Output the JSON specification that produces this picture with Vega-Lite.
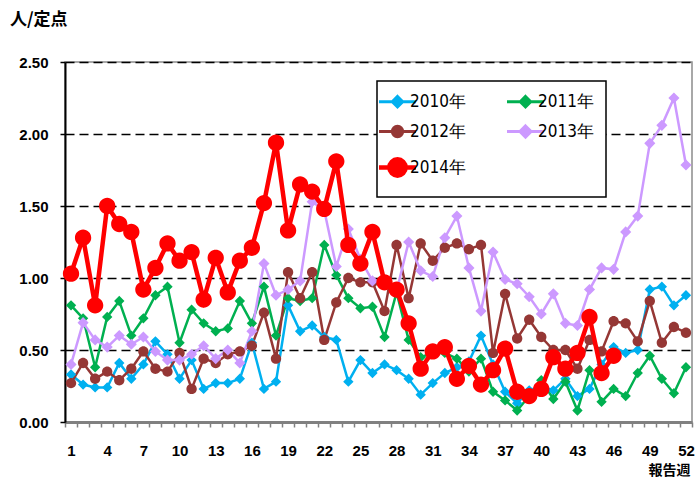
{
"$schema": "https://vega.github.io/schema/vega-lite/v6.json",
"width": 627, "height": 360,
"autosize": "none",
"padding": {"left": 65, "top": 62, "right": 3, "bottom": 55},
"background": "white",
"title": {"text": "人/定点", "anchor": "start", "frame": "group", "dx": -55, "offset": 26, "fontSize": 17, "font": "Noto Sans CJK JP", "fontWeight": "bold", "color": "black"},
"config": {"view": {"stroke": "#8c8c8c", "strokeWidth": 1.5}},
"data": {"values": [
{"w":1,"s":"2010年","v":0.33},{"w":2,"s":"2010年","v":0.26},{"w":3,"s":"2010年","v":0.24},{"w":4,"s":"2010年","v":0.24},{"w":5,"s":"2010年","v":0.41},{"w":6,"s":"2010年","v":0.30},{"w":7,"s":"2010年","v":0.40},{"w":8,"s":"2010年","v":0.56},{"w":9,"s":"2010年","v":0.47},{"w":10,"s":"2010年","v":0.30},{"w":11,"s":"2010年","v":0.43},{"w":12,"s":"2010年","v":0.23},{"w":13,"s":"2010年","v":0.27},{"w":14,"s":"2010年","v":0.27},{"w":15,"s":"2010年","v":0.30},{"w":16,"s":"2010年","v":0.55},{"w":17,"s":"2010年","v":0.23},{"w":18,"s":"2010年","v":0.28},{"w":19,"s":"2010年","v":0.81},{"w":20,"s":"2010年","v":0.63},{"w":21,"s":"2010年","v":0.67},{"w":22,"s":"2010年","v":0.59},{"w":23,"s":"2010年","v":0.57},{"w":24,"s":"2010年","v":0.28},{"w":25,"s":"2010年","v":0.43},{"w":26,"s":"2010年","v":0.34},{"w":27,"s":"2010年","v":0.40},{"w":28,"s":"2010年","v":0.36},{"w":29,"s":"2010年","v":0.30},{"w":30,"s":"2010年","v":0.19},{"w":31,"s":"2010年","v":0.27},{"w":32,"s":"2010年","v":0.34},{"w":33,"s":"2010年","v":0.38},{"w":34,"s":"2010年","v":0.42},{"w":35,"s":"2010年","v":0.60},{"w":36,"s":"2010年","v":0.40},{"w":37,"s":"2010年","v":0.21},{"w":38,"s":"2010年","v":0.13},{"w":39,"s":"2010年","v":0.22},{"w":40,"s":"2010年","v":0.25},{"w":41,"s":"2010年","v":0.22},{"w":42,"s":"2010年","v":0.30},{"w":43,"s":"2010年","v":0.18},{"w":44,"s":"2010年","v":0.23},{"w":45,"s":"2010年","v":0.40},{"w":46,"s":"2010年","v":0.52},{"w":47,"s":"2010年","v":0.48},{"w":48,"s":"2010年","v":0.50},{"w":49,"s":"2010年","v":0.92},{"w":50,"s":"2010年","v":0.94},{"w":51,"s":"2010年","v":0.81},{"w":52,"s":"2010年","v":0.88},
{"w":1,"s":"2011年","v":0.81},{"w":2,"s":"2011年","v":0.72},{"w":3,"s":"2011年","v":0.38},{"w":4,"s":"2011年","v":0.73},{"w":5,"s":"2011年","v":0.84},{"w":6,"s":"2011年","v":0.60},{"w":7,"s":"2011年","v":0.72},{"w":8,"s":"2011年","v":0.88},{"w":9,"s":"2011年","v":0.94},{"w":10,"s":"2011年","v":0.55},{"w":11,"s":"2011年","v":0.78},{"w":12,"s":"2011年","v":0.685},{"w":13,"s":"2011年","v":0.63},{"w":14,"s":"2011年","v":0.65},{"w":15,"s":"2011年","v":0.84},{"w":16,"s":"2011年","v":0.685},{"w":17,"s":"2011年","v":0.94},{"w":18,"s":"2011年","v":0.60},{"w":19,"s":"2011年","v":0.86},{"w":20,"s":"2011年","v":0.84},{"w":21,"s":"2011年","v":0.86},{"w":22,"s":"2011年","v":1.23},{"w":23,"s":"2011年","v":1.02},{"w":24,"s":"2011年","v":0.86},{"w":25,"s":"2011年","v":0.79},{"w":26,"s":"2011年","v":0.80},{"w":27,"s":"2011年","v":0.59},{"w":28,"s":"2011年","v":0.90},{"w":29,"s":"2011年","v":0.57},{"w":30,"s":"2011年","v":0.45},{"w":31,"s":"2011年","v":0.48},{"w":32,"s":"2011年","v":0.48},{"w":33,"s":"2011年","v":0.44},{"w":34,"s":"2011年","v":0.35},{"w":35,"s":"2011年","v":0.44},{"w":36,"s":"2011年","v":0.21},{"w":37,"s":"2011年","v":0.15},{"w":38,"s":"2011年","v":0.08},{"w":39,"s":"2011年","v":0.18},{"w":40,"s":"2011年","v":0.29},{"w":41,"s":"2011年","v":0.16},{"w":42,"s":"2011年","v":0.28},{"w":43,"s":"2011年","v":0.08},{"w":44,"s":"2011年","v":0.36},{"w":45,"s":"2011年","v":0.14},{"w":46,"s":"2011年","v":0.23},{"w":47,"s":"2011年","v":0.18},{"w":48,"s":"2011年","v":0.34},{"w":49,"s":"2011年","v":0.46},{"w":50,"s":"2011年","v":0.30},{"w":51,"s":"2011年","v":0.20},{"w":52,"s":"2011年","v":0.38},
{"w":1,"s":"2012年","v":0.27},{"w":2,"s":"2012年","v":0.41},{"w":3,"s":"2012年","v":0.30},{"w":4,"s":"2012年","v":0.35},{"w":5,"s":"2012年","v":0.29},{"w":6,"s":"2012年","v":0.37},{"w":7,"s":"2012年","v":0.49},{"w":8,"s":"2012年","v":0.37},{"w":9,"s":"2012年","v":0.35},{"w":10,"s":"2012年","v":0.48},{"w":11,"s":"2012年","v":0.23},{"w":12,"s":"2012年","v":0.44},{"w":13,"s":"2012年","v":0.41},{"w":14,"s":"2012年","v":0.47},{"w":15,"s":"2012年","v":0.49},{"w":16,"s":"2012年","v":0.53},{"w":17,"s":"2012年","v":0.76},{"w":18,"s":"2012年","v":0.44},{"w":19,"s":"2012年","v":1.04},{"w":20,"s":"2012年","v":0.86},{"w":21,"s":"2012年","v":1.04},{"w":22,"s":"2012年","v":0.57},{"w":23,"s":"2012年","v":0.83},{"w":24,"s":"2012年","v":1.00},{"w":25,"s":"2012年","v":0.97},{"w":26,"s":"2012年","v":0.97},{"w":27,"s":"2012年","v":0.77},{"w":28,"s":"2012年","v":1.23},{"w":29,"s":"2012年","v":0.86},{"w":30,"s":"2012年","v":1.24},{"w":31,"s":"2012年","v":1.12},{"w":32,"s":"2012年","v":1.21},{"w":33,"s":"2012年","v":1.24},{"w":34,"s":"2012年","v":1.20},{"w":35,"s":"2012年","v":1.23},{"w":36,"s":"2012年","v":0.48},{"w":37,"s":"2012年","v":0.89},{"w":38,"s":"2012年","v":0.58},{"w":39,"s":"2012年","v":0.71},{"w":40,"s":"2012年","v":0.59},{"w":41,"s":"2012年","v":0.50},{"w":42,"s":"2012年","v":0.50},{"w":43,"s":"2012年","v":0.37},{"w":44,"s":"2012年","v":0.57},{"w":45,"s":"2012年","v":0.49},{"w":46,"s":"2012年","v":0.70},{"w":47,"s":"2012年","v":0.685},{"w":48,"s":"2012年","v":0.56},{"w":49,"s":"2012年","v":0.84},{"w":50,"s":"2012年","v":0.55},{"w":51,"s":"2012年","v":0.66},{"w":52,"s":"2012年","v":0.62},
{"w":1,"s":"2013年","v":0.40},{"w":2,"s":"2013年","v":0.69},{"w":3,"s":"2013年","v":0.57},{"w":4,"s":"2013年","v":0.52},{"w":5,"s":"2013年","v":0.60},{"w":6,"s":"2013年","v":0.54},{"w":7,"s":"2013年","v":0.59},{"w":8,"s":"2013年","v":0.49},{"w":9,"s":"2013年","v":0.43},{"w":10,"s":"2013年","v":0.43},{"w":11,"s":"2013年","v":0.47},{"w":12,"s":"2013年","v":0.53},{"w":13,"s":"2013年","v":0.44},{"w":14,"s":"2013年","v":0.50},{"w":15,"s":"2013年","v":0.41},{"w":16,"s":"2013年","v":0.63},{"w":17,"s":"2013年","v":1.10},{"w":18,"s":"2013年","v":0.88},{"w":19,"s":"2013年","v":0.92},{"w":20,"s":"2013年","v":0.98},{"w":21,"s":"2013年","v":1.53},{"w":22,"s":"2013年","v":1.47},{"w":23,"s":"2013年","v":1.08},{"w":24,"s":"2013年","v":1.34},{"w":25,"s":"2013年","v":1.13},{"w":26,"s":"2013年","v":0.98},{"w":27,"s":"2013年","v":0.96},{"w":28,"s":"2013年","v":0.91},{"w":29,"s":"2013年","v":1.25},{"w":30,"s":"2013年","v":1.05},{"w":31,"s":"2013年","v":1.01},{"w":32,"s":"2013年","v":1.28},{"w":33,"s":"2013年","v":1.43},{"w":34,"s":"2013年","v":1.07},{"w":35,"s":"2013年","v":0.77},{"w":36,"s":"2013年","v":1.18},{"w":37,"s":"2013年","v":0.99},{"w":38,"s":"2013年","v":0.96},{"w":39,"s":"2013年","v":0.87},{"w":40,"s":"2013年","v":0.75},{"w":41,"s":"2013年","v":0.89},{"w":42,"s":"2013年","v":0.685},{"w":43,"s":"2013年","v":0.67},{"w":44,"s":"2013年","v":0.92},{"w":45,"s":"2013年","v":1.07},{"w":46,"s":"2013年","v":1.06},{"w":47,"s":"2013年","v":1.32},{"w":48,"s":"2013年","v":1.43},{"w":49,"s":"2013年","v":1.935},{"w":50,"s":"2013年","v":2.06},{"w":51,"s":"2013年","v":2.25},{"w":52,"s":"2013年","v":1.785},
{"w":1,"s":"2014年","v":1.03},{"w":2,"s":"2014年","v":1.28},{"w":3,"s":"2014年","v":0.81},{"w":4,"s":"2014年","v":1.50},{"w":5,"s":"2014年","v":1.375},{"w":6,"s":"2014年","v":1.32},{"w":7,"s":"2014年","v":0.92},{"w":8,"s":"2014年","v":1.07},{"w":9,"s":"2014年","v":1.24},{"w":10,"s":"2014年","v":1.12},{"w":11,"s":"2014年","v":1.18},{"w":12,"s":"2014年","v":0.85},{"w":13,"s":"2014年","v":1.14},{"w":14,"s":"2014年","v":0.90},{"w":15,"s":"2014年","v":1.12},{"w":16,"s":"2014年","v":1.21},{"w":17,"s":"2014年","v":1.52},{"w":18,"s":"2014年","v":1.94},{"w":19,"s":"2014年","v":1.33},{"w":20,"s":"2014年","v":1.65},{"w":21,"s":"2014年","v":1.60},{"w":22,"s":"2014年","v":1.48},{"w":23,"s":"2014年","v":1.81},{"w":24,"s":"2014年","v":1.23},{"w":25,"s":"2014年","v":1.10},{"w":26,"s":"2014年","v":1.32},{"w":27,"s":"2014年","v":0.97},{"w":28,"s":"2014年","v":0.92},{"w":29,"s":"2014年","v":0.685},{"w":30,"s":"2014年","v":0.37},{"w":31,"s":"2014年","v":0.49},{"w":32,"s":"2014年","v":0.52},{"w":33,"s":"2014年","v":0.30},{"w":34,"s":"2014年","v":0.39},{"w":35,"s":"2014年","v":0.26},{"w":36,"s":"2014年","v":0.36},{"w":37,"s":"2014年","v":0.51},{"w":38,"s":"2014年","v":0.21},{"w":39,"s":"2014年","v":0.18},{"w":40,"s":"2014年","v":0.23},{"w":41,"s":"2014年","v":0.45},{"w":42,"s":"2014年","v":0.37},{"w":43,"s":"2014年","v":0.48},{"w":44,"s":"2014年","v":0.73},{"w":45,"s":"2014年","v":0.34},{"w":46,"s":"2014年","v":0.46}
]},
"encoding": {
  "x": {"field": "w", "type": "ordinal", "sort": "ascending", "scale": {"type": "band", "paddingInner": 0, "paddingOuter": 0},
    "axis": {"orient": "bottom", "tickBand": "extent", "labelExpr": "(datum.value - 1) % 3 === 0 ? datum.label : ''", "labelAngle": 0, "labelOverlap": false, "labelFont": "Liberation Sans", "labelFontWeight": "bold", "labelFontSize": 15, "labelColor": "black", "labelPadding": 16, "tickSize": 5, "tickColor": "#808080", "tickWidth": 1.5, "domainColor": "#808080", "domainWidth": 3, "grid": false, "title": "報告週", "titleFont": "Noto Sans CJK JP", "titleFontWeight": "bold", "titleFontSize": 14, "titleAnchor": "end", "titleAlign": "right", "titleX": 625, "titleY": 41, "titleBaseline": "top", "titleColor": "black"}},
  "y": {"field": "v", "type": "quantitative", "scale": {"domain": [0, 2.5], "nice": false, "zero": true},
    "axis": {"values": [0, 0.5, 1, 1.5, 2, 2.5], "format": ".2f", "labelFont": "Liberation Sans", "labelFontWeight": "bold", "labelFontSize": 15, "labelColor": "black", "labelPadding": 12, "tickSize": 5, "tickColor": "black", "tickWidth": 1.5, "domainColor": "black", "domainWidth": 2, "grid": true, "gridColor": "black", "gridDash": [9, 5], "gridWidth": 1.5, "title": null}},
  "color": {"field": "s", "type": "nominal", "scale": {"domain": ["2010年", "2011年", "2012年", "2013年", "2014年"], "range": ["#00B0F0", "#00B050", "#953735", "#CC99FF", "#FF0000"]},
    "legend": {"orient": "none", "legendX": 312, "legendY": 19, "columns": 2, "values": ["2010年", "2012年", "2014年", "2011年", "2013年"], "title": null, "strokeColor": "black", "fillColor": "white", "padding": 12, "rowPadding": 6, "columnPadding": 35, "labelFont": "DejaVu Sans Condensed, Liberation Sans", "labelFontSize": 17, "labelColor": "black", "labelOffset": 4, "labelLimit": 0, "symbolSize": 1369,
       "encode": {"legend": {"update": {"strokeWidth": {"value": 1.5}}}, "symbols": {"update": {"shape": {"scale": "shape", "field": "value"}, "fill": {"scale": "color", "field": "value"}, "stroke": {"scale": "color", "field": "value"}, "strokeWidth": {"signal": "datum.value === '2014年' ? 4.5 : 3"}, "opacity": {"value": 1}, "fillOpacity": {"value": 1}, "strokeOpacity": {"value": 1}}}}}}
},
"layer": [
  {"transform": [{"filter": "datum.s !== '2014年'"}], "mark": {"type": "line", "strokeWidth": 2.5}},
  {"transform": [{"filter": "datum.s !== '2014年'"}], "mark": {"type": "point", "filled": true, "size": 1369, "opacity": 1},
   "encoding": {"shape": {"field": "s", "type": "nominal",
     "scale": {"domain": ["2010年", "2011年", "2012年", "2013年", "2014年"], "range": ["M-1,0H1M0,-0.28L0.28,0L0,0.28L-0.28,0Z", "M-1,0H1M0,-0.28L0.28,0L0,0.28L-0.28,0Z", "M-1,0H1M0.28,0A0.28,0.28,0,1,1,-0.28,0A0.28,0.28,0,1,1,0.28,0Z", "M-1,0H1M0,-0.3L0.3,0L0,0.3L-0.3,0Z", "M-1,0H1M0.44,0A0.44,0.44,0,1,1,-0.44,0A0.44,0.44,0,1,1,0.44,0Z"]},
     "legend": null}}},
  {"transform": [{"filter": "datum.s === '2014年'"}], "mark": {"type": "line", "strokeWidth": 4.5}},
  {"transform": [{"filter": "datum.s === '2014年'"}], "mark": {"type": "point", "filled": true, "size": 1369, "opacity": 1},
   "encoding": {"shape": {"field": "s", "type": "nominal",
     "scale": {"domain": ["2010年", "2011年", "2012年", "2013年", "2014年"], "range": ["M-1,0H1M0,-0.28L0.28,0L0,0.28L-0.28,0Z", "M-1,0H1M0,-0.28L0.28,0L0,0.28L-0.28,0Z", "M-1,0H1M0.28,0A0.28,0.28,0,1,1,-0.28,0A0.28,0.28,0,1,1,0.28,0Z", "M-1,0H1M0,-0.3L0.3,0L0,0.3L-0.3,0Z", "M-1,0H1M0.44,0A0.44,0.44,0,1,1,-0.44,0A0.44,0.44,0,1,1,0.44,0Z"]},
     "legend": null}}}
]
}
